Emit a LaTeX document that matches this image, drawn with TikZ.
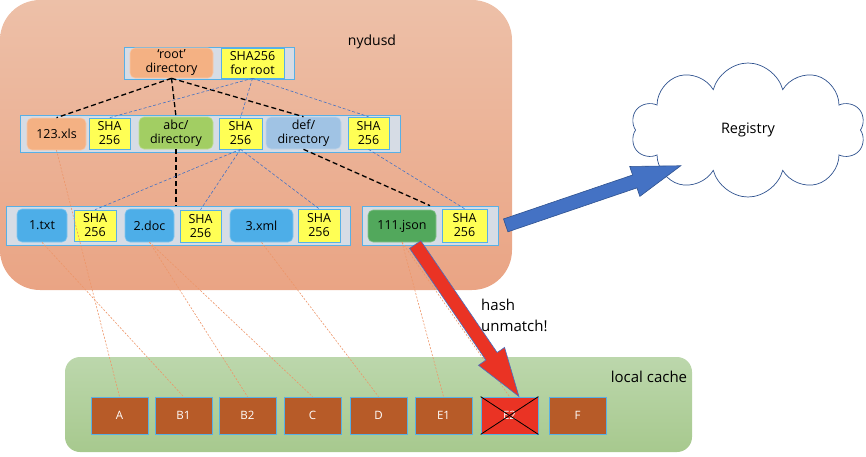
\documentclass[tikz,border=0pt]{standalone}
\usepackage{fontspec}
\setmainfont{Open Sans}
\usetikzlibrary{positioning,calc,shapes.symbols,shapes.arrows}

\definecolor{hostTop}{RGB}{237,192,168}
\definecolor{hostBottom}{RGB}{234,164,132}
\definecolor{groupgray}{RGB}{214,220,229}
\definecolor{edgeblue}{RGB}{88,176,230}
\definecolor{shayellow}{RGB}{255,255,85}
\definecolor{dirorange}{RGB}{244,177,131}
\definecolor{abcgreen}{RGB}{162,206,99}
\definecolor{defblue}{RGB}{160,195,228}
\definecolor{fileblue}{RGB}{77,174,232}
\definecolor{jsongreen}{RGB}{82,168,92}
\definecolor{cacheTop}{RGB}{188,215,172}
\definecolor{cacheBottom}{RGB}{167,201,142}
\definecolor{chunkbrown}{RGB}{183,91,40}
\definecolor{badred}{RGB}{234,51,36}
\definecolor{pushblue}{RGB}{68,114,196}
\definecolor{outlineblue}{RGB}{47,82,143}
\definecolor{linkorange}{RGB}{237,150,105}

\begin{document}
\begin{tikzpicture}[
    x=1pt, y=-1pt,
    font=\fontsize{12.5}{14}\selectfont,
    host/.style      = {rounded corners=40pt, top color=hostTop, bottom color=hostBottom},
    cachebox/.style  = {rounded corners=15pt, top color=cacheTop, bottom color=cacheBottom},
    group/.style     = {draw=edgeblue, fill=groupgray, line width=0.8pt, inner sep=0pt},
    entry/.style     = {rounded corners=5pt, inner sep=0pt, align=center, line width=0.6pt},
    dir/.style       = {entry, draw=dirorange!70!white, fill=dirorange},
    file/.style      = {entry, draw=fileblue!70!white, fill=fileblue},
    hash/.style      = {draw=edgeblue, fill=shayellow, inner sep=0pt, align=center, line width=0.6pt},
    chunk/.style     = {draw=edgeblue, fill=chunkbrown, text=white, line width=0.8pt,
                        minimum width=57, minimum height=37, inner sep=0pt,
                        font=\fontsize{11.5}{13}\selectfont},
    tag/.style       = {inner sep=0pt, font=\fontsize{15}{21}\selectfont},
    tree/.style      = {black, line width=1.3pt, dash pattern=on 5pt off 3pt},
    hashlink/.style  = {draw=pushblue, line width=0.6pt, dash pattern=on 3pt off 2pt},
    chunklink/.style = {draw=linkorange, line width=0.6pt, dash pattern=on 2pt off 1.5pt},
    fatarrow/.style  = {single arrow, inner xsep=0pt, inner ysep=6.5pt, minimum width=0pt,
                        single arrow head extend=9pt, single arrow tip angle=36,
                        line width=0.6pt, draw=outlineblue, sloped, allow upside down,
                        pos=0, anchor=tail},
]
\useasboundingbox (0,0) rectangle (866,456);

% --- nydusd host and local cache ---
\node[host, minimum width=512, minimum height=290] (nydus) at (256,145) {};
\node[tag, font=\fontsize{14}{16}\selectfont] (nydusd) at (372,42) {nydusd};
\node[cachebox, minimum width=627, minimum height=95] (cache) at (378.5,404.5) {};
\node[tag] (cachelbl) at (649,377) {local cache};

% --- root level ---
\node[group, minimum width=170, minimum height=32] (rootgrp) at (209,63) {};
\node[dir, minimum width=83, minimum height=30] (rootdir) at (171.5,63) {‘root’\\directory};
\node[hash, minimum width=63, minimum height=30] (sharoot) at (252.5,63) {SHA256\\for root};

% --- first level ---
\node[group, minimum width=380, minimum height=37] (level1) at (210,133.5) {};
\node[dir, minimum width=59, minimum height=32] (xls) at (56.5,134) {123.xls};
\node[hash, minimum width=41, minimum height=31] (shaxls) at (109.5,133.5) {SHA\\256};
\node[entry, draw=abcgreen!70!white, fill=abcgreen, minimum width=74, minimum height=32] (abc) at (176,133) {abc/\\directory};
\node[hash, minimum width=43, minimum height=31] (shaabc) at (240.5,133.5) {SHA\\256};
\node[entry, draw=defblue!70!white, fill=defblue, minimum width=75, minimum height=32] (def) at (303.5,133) {def/\\directory};
\node[hash, minimum width=41, minimum height=32] (shadef) at (368.5,133) {SHA\\256};

% --- second level ---
\node[group, minimum width=344, minimum height=39] (level2) at (178,225.5) {};
\node[file, minimum width=50, minimum height=33] (txt) at (42,225.5) {1.txt};
\node[hash, minimum width=42, minimum height=31] (shatxt) at (95,225.5) {SHA\\256};
\node[file, minimum width=49, minimum height=33] (doc) at (149.5,225.5) {2.doc};
\node[hash, minimum width=41, minimum height=32] (shadoc) at (200.5,226) {SHA\\256};
\node[file, minimum width=63, minimum height=33] (xml) at (261.5,225.5) {3.xml};
\node[hash, minimum width=42, minimum height=33] (shaxml) at (319,225.5) {SHA\\256};

\node[group, minimum width=136, minimum height=39] (level2b) at (430,225.5) {};
\node[entry, draw=jsongreen!70!white, fill=jsongreen, minimum width=68, minimum height=32] (json) at (402,226) {111.json};
\node[hash, minimum width=45, minimum height=33] (shajson) at (464.5,225.5) {SHA\\256};

% --- chunks in the local cache ---
\node[chunk] (cA)  at (119.5,415.5) {A};
\node[chunk] (cB1) at (183.5,415.5) {B1};
\node[chunk] (cB2) at (247.5,415.5) {B2};
\node[chunk] (cC)  at (312.5,415.5) {C};
\node[chunk] (cD)  at (378.5,415.5) {D};
\node[chunk] (cE1) at (443.5,415.5) {E1};
\node[chunk, fill=badred] (cE2) at (509.5,415.5) {E2};
\node[chunk] (cF)  at (577.5,415.5) {F};
\draw[line width=0.8pt] (cE2.north west) -- (cE2.south east);
\draw[line width=0.8pt] (cE2.south west) -- (cE2.north east);

% --- directory tree ---
\draw[tree] (rootdir.south) -- (xls.north);
\draw[tree] (rootdir.south) -- (abc.north);
\draw[tree] (rootdir.south) -- (def.north);
\draw[tree] (abc.south) -- (abc.south |- level2.north);
\draw[tree] (def.south) -- (level2b.north);

% --- hash chain ---
\draw[hashlink] (sharoot.south) -- (shaxls.north);
\draw[hashlink] (sharoot.south) -- (shaabc.north);
\draw[hashlink] (sharoot.south) -- (shadef.north);
\draw[hashlink] (shaabc.south) -- (shatxt.north);
\draw[hashlink] (shaabc.south) -- (shadoc.north);
\draw[hashlink] (shaabc.south) -- (shaxml.north);
\draw[hashlink] (shadef.south) -- (shajson.north);

% --- files to chunks ---
\draw[chunklink] (xls.south) -- (cA.north);
\draw[chunklink] (txt.south) -- (cB1.north);
\draw[chunklink] (doc.south) -- (cB2.north);
\draw[chunklink] (doc.south) -- (cC.north);
\draw[chunklink] (xml.south) -- (cD.north);
\draw[chunklink] (json.south) -- (cE1.north);
\draw[chunklink] (json.south) -- (cE2.north);

% --- registry ---
\node[cloud, cloud puffs=10, cloud ignores aspect, draw=outlineblue, fill=white, line width=0.7pt,
      minimum width=234, minimum height=134, font=\fontsize{14.5}{16}\selectfont] (registry) at (748,130) {Registry};

% --- big arrows ---
\coordinate (pushtail) at ($(level2b.east)+(7,0)$);
\coordinate (pushtip)  at ($(registry.center)+(-68,36)$);
\path (pushtail) -- (pushtip) node[fatarrow, fill=pushblue, minimum height=185] (push) {};

\coordinate (failtail) at ($(json.south)+(13,2)$);
\coordinate (failtip)  at ($(cE2.north)+(8.5,-1.5)$);
\path (failtail) -- (failtip) node[fatarrow, fill=badred, draw=pushblue, minimum height=184] (fail) {};

\node[tag, anchor=north west, align=left] (unmatch) at (481,299) {hash\\unmatch!};

\end{tikzpicture}
\end{document}
